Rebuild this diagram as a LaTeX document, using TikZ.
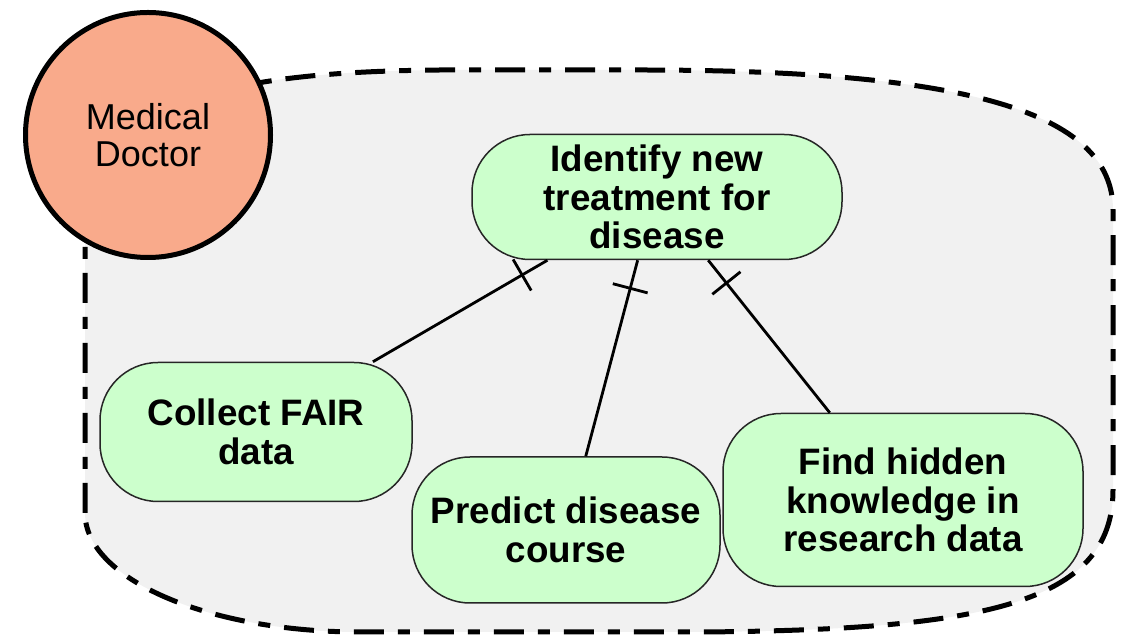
\documentclass[tikz,border=0pt]{standalone}
\usepackage{fontspec}
\setmainfont{Liberation Sans}
\usetikzlibrary{decorations.markings}

\definecolor{actorfill}{RGB}{249,170,139}
\definecolor{goalfill}{RGB}{204,255,204}
\definecolor{boundaryfill}{RGB}{241,241,241}

\tikzset{
  actor/.style={circle, draw=black, fill=actorfill, line width=2.5pt, minimum size=122.5pt, inner sep=0pt, align=center, font=\fontsize{18}{18.5}\selectfont},
  goal/.style={draw=black!85, fill=goalfill, line width=0.75pt, rounded corners=29pt, inner sep=0pt, align=center, font=\fontsize{18.4}{19.2}\selectfont\bfseries},
  andlink/.style={line width=1.4pt, postaction={decorate}, decoration={markings, mark=at position -14.5pt with {\draw[line width=1.4pt] (0,-9pt) -- (0,9pt);}}}
}

\begin{document}
\begin{tikzpicture}[x=0.5pt, y=-0.5pt]
\useasboundingbox (0,0) rectangle (1130,635);
% actor boundary
\draw[line width=2.5pt, fill=boundaryfill, dash pattern=on 15pt off 7pt on 6pt off 7pt]
  (85,513) -- (85,240) .. controls (85,110) and (200,72) .. (440,70) -- (640,70)
  .. controls (960,70) and (1113,110) .. (1113,210) -- (1113,490)
  .. controls (1113,605) and (980,630) .. (700,632) -- (360,632)
  .. controls (208,632) and (85,579) .. (85,513) -- cycle;
\node[actor] (doctor) at (148,135) {Medical\\Doctor};
% goals
\node[goal, minimum width=185pt, minimum height=62.5pt] (treatment) at (657,197) {Identify new\\treatment for\\disease};
\node[goal, minimum width=156pt, minimum height=69.5pt] (collect) at (256,432) {Collect FAIR\\data};
\node[goal, minimum width=154pt, minimum height=73pt] (predict) at (566,530) {Predict disease\\course};
\node[goal, minimum width=180pt, minimum height=86.5pt] (hidden) at (903,500) {Find hidden\\knowledge in\\research data};
% refinements
\draw[andlink] (collect.31) -- (treatment.210);
\draw[andlink] (predict.75) -- (treatment.253);
\draw[andlink] (hidden.130) -- (treatment.309);
\end{tikzpicture}
\end{document}
